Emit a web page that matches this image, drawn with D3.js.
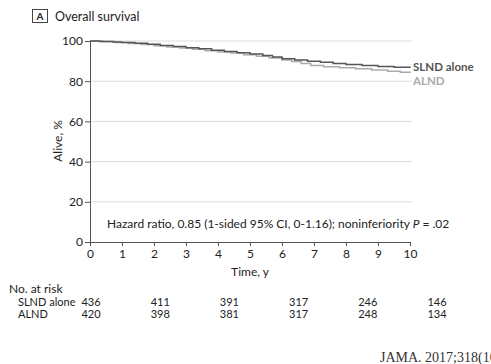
<!DOCTYPE html>
<html>
<head>
<meta charset="utf-8">
<script src="https://cdn.jsdelivr.net/npm/d3@7"></script>
<style>
  body { margin: 0; background: #fff; }
  svg { font-family: Lato, "Open Sans", sans-serif; }
</style>
</head>
<body>
<div class="chart"></div>
<script>
var yearTicks = [0, 1, 2, 3, 4, 5, 6, 7, 8, 9, 10];
var pctTicks = [0, 20, 40, 60, 80, 100];

// KM curves: [year, % alive]
var slndCurve = [[0,100],[0.3,99.8],[0.7,99.5],[1.0,99.2],[1.4,98.9],[1.8,98.4],[2.2,97.8],[2.6,97.3],
  [3.0,96.7],[3.4,96.1],[3.8,95.4],[4.2,94.8],[4.6,94.2],[5.0,93.5],[5.4,92.8],[5.7,92.0],[6.0,91.2],
  [6.4,90.5],[6.8,89.9],[7.2,89.4],[7.6,88.8],[8.0,88.3],[8.5,87.8],[9.0,87.3],[9.5,86.9],[10,86.6]];
var alndCurve = [[0,100],[0.4,99.7],[0.8,99.3],[1.2,98.8],[1.6,98.2],[2.0,97.6],[2.4,97.0],[2.8,96.5],
  [3.2,95.9],[3.6,95.2],[4.0,94.5],[4.4,94.0],[4.8,93.2],[5.2,92.4],[5.6,91.5],[6.0,90.6],[6.3,89.8],
  [6.6,88.8],[6.9,87.8],[7.3,87.2],[7.8,86.7],[8.3,86.2],[8.8,85.6],[9.3,85.0],[9.7,84.4],[10,83.9]];

var riskGroups = ['SLND alone', 'ALND'];
var riskSlnd = [436, 411, 391, 317, 246, 146];
var riskAlnd = [420, 398, 381, 317, 248, 134];

var dark = '#555', light = '#aaa', ink = '#222';

var svg = d3.select('.chart').append('svg')
  .attr('width', 491)
  .attr('height', 364);

var x = d3.scaleLinear().domain([0, 10]).range([90, 410]);
var y = d3.scaleLinear().domain([0, 100]).range([242, 41]);

// panel title
svg.append('rect').attr('x', 32.5).attr('y', 9.5).attr('width', 15).attr('height', 13)
  .attr('fill', 'none').attr('stroke', '#444');
svg.append('text').attr('x', 40).attr('y', 20).attr('text-anchor', 'middle')
  .attr('font-size', 10).attr('font-weight', 'bold').attr('fill', ink).text('A');
svg.append('text').attr('x', 55).attr('y', 21).attr('font-size', 12.5).attr('fill', ink)
  .text('Overall survival');

// grid
svg.append('g').selectAll('line')
  .data(pctTicks.filter(function(d){ return d > 0; }))
  .enter().append('line')
  .attr('x1', 90).attr('x2', 412)
  .attr('y1', function(d){ return y(d); }).attr('y2', function(d){ return y(d); })
  .attr('stroke', '#ddd').attr('stroke-width', 1);

// axes
var yAxis = svg.append('g').attr('transform', 'translate(90,0)')
  .call(d3.axisLeft(y).tickValues(pctTicks).tickSize(5).tickPadding(2));
var xAxis = svg.append('g').attr('transform', 'translate(0,242)')
  .call(d3.axisBottom(x).tickValues(yearTicks).tickSize(4).tickPadding(3));
[yAxis, xAxis].forEach(function(a){
  a.select('.domain').attr('stroke', dark);
  a.selectAll('.tick line').attr('stroke', dark);
  a.selectAll('text').attr('font-size', 12).attr('fill', ink)
    .attr('font-family', 'Lato, "Open Sans", sans-serif');
});

svg.append('text')
  .attr('transform', 'translate(62,141) rotate(-90)')
  .attr('text-anchor', 'middle').attr('font-size', 12).attr('fill', ink)
  .text('Alive, %');
svg.append('text').attr('x', 250).attr('y', 276).attr('text-anchor', 'middle')
  .attr('font-size', 12).attr('fill', ink).text('Time, y');

// curves
var line = d3.line()
  .x(function(d){ return x(d[0]); })
  .y(function(d){ return y(d[1]); })
  .curve(d3.curveStepAfter);

svg.append('path').datum(alndCurve).attr('d', line)
  .attr('fill', 'none').attr('stroke', light).attr('stroke-width', 1.5);
svg.append('path').datum(slndCurve).attr('d', line)
  .attr('fill', 'none').attr('stroke', dark).attr('stroke-width', 1.5);

svg.append('text').attr('x', 413).attr('y', 70.5).attr('font-size', 11.5)
  .attr('font-weight', 'bold').attr('fill', dark).text('SLND alone');
svg.append('text').attr('x', 413).attr('y', 84.5).attr('font-size', 11.5)
  .attr('font-weight', 'bold').attr('fill', light).text('ALND');

// annotation
var note = svg.append('text').attr('x', 107).attr('y', 228).attr('font-size', 12).attr('fill', ink);
note.append('tspan').text('Hazard ratio, 0.85 (1-sided 95% CI, 0-1.16); noninferiority ');
note.append('tspan').attr('font-style', 'italic').text('P');
note.append('tspan').text(' = .02');

// number at risk table
var rx = d3.scaleLinear().domain([0, 5]).range([91, 437]);
svg.append('text').attr('x', 9).attr('y', 293).attr('font-size', 12).attr('fill', ink)
  .text('No. at risk');
[riskSlnd, riskAlnd].forEach(function(row, i){
  var ry = 306 + i * 12;
  svg.append('text').attr('x', 18).attr('y', ry).attr('font-size', 11).attr('fill', ink)
    .text(riskGroups[i]);
  svg.append('g').selectAll('text').data(row).enter().append('text')
    .attr('x', function(d, j){ return rx(j); })
    .attr('y', ry)
    .attr('text-anchor', 'middle').attr('font-size', 11).attr('fill', ink)
    .text(function(d){ return d; });
});

// source line (cut at right edge, as in the original)
svg.append('text').attr('x', 380).attr('y', 362).attr('font-size', 14)
  .attr('font-family', '"Liberation Serif", "DejaVu Serif", serif').attr('fill', '#333')
  .text('JAMA. 2017;318(10)');
</script>
</body>
</html>
